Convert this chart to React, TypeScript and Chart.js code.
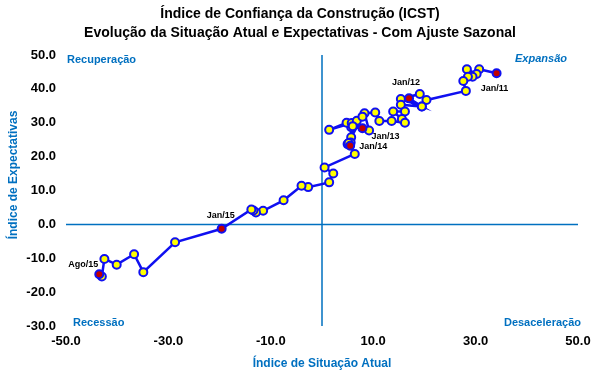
import React, { useEffect, useRef } from "react";
import { Chart, registerables } from "chart.js";

Chart.register(...registerables);

const situacaoAtual: number[] = [
  34.1, 30.7, 30.2, 28.3, 29.4, 28.5, 27.6, 28.1, 20.4, 19.1, 15.4, 19.5,
  17.0, 19.5, 15.4, 16.2, 13.9, 15.6, 16.2, 13.6, 11.2, 10.4, 8.3, 9.2,
  7.9, 5.7, 4.8, 1.4, 5.8, 6.8, 7.9, 5.7, 5.0, 5.6, 6.0, 5.2,
  5.5, 6.4, 0.5, 2.2, 1.4, -2.7, -4.0, -7.5, -11.5, -12.9, -13.4, -13.8,
  -19.6, -28.7, -34.9, -36.7, -40.1, -42.5, -43.0, -43.5,
];
const expectativas: number[] = [
  44.6, 45.8, 44.4, 45.8, 43.6, 43.6, 42.3, 39.4, 36.7, 38.5, 37.0, 34.8,
  37.2, 34.8, 35.3, 33.3, 33.3, 31.1, 30.0, 30.5, 30.5, 33.0, 32.8, 27.7,
  28.4, 28.7, 30.0, 27.9, 29.9, 30.6, 31.8, 25.7, 23.7, 24.2, 29.0, 24.0,
  23.2, 20.8, 16.8, 15.0, 12.4, 11.0, 11.4, 7.1, 4.0, 3.5, 4.1, 4.4,
  -1.3, -5.3, -14.1, -8.8, -11.9, -10.2, -15.4, -14.7,
];
const pointLabels: string[] = [
  "Jan/11", "", "", "", "", "", "", "", "", "", "", "",
  "Jan/12", "", "", "", "", "", "", "", "", "", "", "",
  "Jan/13", "", "", "", "", "", "", "", "", "", "", "",
  "Jan/14", "", "", "", "", "", "", "", "", "", "", "",
  "Jan/15", "", "", "", "", "", "", "Ago/15",
];
const labelOffsets: Record<string, [number, number]> = {
  "Jan/11": [-2, 15],
  "Jan/12": [-3, -16],
  "Jan/13": [23, 8],
  "Jan/14": [23, 1],
  "Jan/15": [-1, -13],
  "Ago/15": [-16, -10],
};
const xTicks = [-50, 50, 20];
const yTicks = [-30, 50, 10];

const BLUE = "#0070C0";
const FONT = "'Liberation Sans', Arial, sans-serif";

export default function App() {
  const ref = useRef<HTMLCanvasElement>(null);
  useEffect(() => {
    if (!ref.current) return;
    const data = situacaoAtual.map((x, i) => ({ x, y: expectativas[i] }));
    const overlay = {
      id: "overlay",
      beforeDatasetsDraw(chart: any) {
        const { ctx, chartArea, scales } = chart;
        const x0 = scales.x.getPixelForValue(0);
        const y0 = scales.y.getPixelForValue(0);
        ctx.save();
        ctx.strokeStyle = BLUE;
        ctx.lineWidth = 1.5;
        ctx.beginPath();
        ctx.moveTo(x0, chartArea.top);
        ctx.lineTo(x0, chartArea.bottom);
        ctx.moveTo(chartArea.left, y0);
        ctx.lineTo(chartArea.right, y0);
        ctx.stroke();
        ctx.restore();
      },
      afterDraw(chart: any) {
        const { ctx, scales } = chart;
        ctx.save();
        ctx.fillStyle = "#000";
        ctx.textAlign = "center";
        ctx.textBaseline = "middle";
        ctx.font = `bold 14px ${FONT}`;
        ctx.fillText("Índice de Confiança da Construção (ICST)", 300, 14);
        ctx.fillText("Evolução da Situação Atual e Expectativas - Com Ajuste Sazonal", 300, 33);
        // quadrant labels
        ctx.fillStyle = BLUE;
        ctx.font = `bold 11px ${FONT}`;
        ctx.textAlign = "left";
        ctx.fillText("Recuperação", 67, 60);
        ctx.fillText("Recessão", 73, 323);
        ctx.textAlign = "right";
        ctx.fillText("Desaceleração", 581, 323);
        ctx.font = `italic bold 11px ${FONT}`;
        ctx.fillText("Expansão", 567, 59);
        // axis titles
        ctx.font = `bold 12px ${FONT}`;
        ctx.textAlign = "center";
        ctx.fillText("Índice de Situação Atual", 322, 364);
        ctx.save();
        ctx.translate(14, 175);
        ctx.rotate(-Math.PI / 2);
        ctx.fillText("Índice de Expectativas", 0, 0);
        ctx.restore();
        // point labels
        ctx.fillStyle = "#000";
        ctx.font = `bold 9px ${FONT}`;
        pointLabels.forEach((lab, i) => {
          if (!lab) return;
          const px = scales.x.getPixelForValue(situacaoAtual[i]);
          const py = scales.y.getPixelForValue(expectativas[i]);
          const off = labelOffsets[lab] || [0, -12];
          ctx.fillText(lab, px + off[0], py + off[1]);
        });
        ctx.restore();
      },
    };
    const chart = new Chart(ref.current, {
      type: "scatter",
      data: {
        datasets: [
          {
            data,
            showLine: true,
            borderColor: "#1010F0",
            borderWidth: 2.5,
            pointRadius: 4,
            pointBorderWidth: 2,
            pointBorderColor: "#1010F0",
            pointBackgroundColor: pointLabels.map((l) => (l ? "#C00000" : "#FFFF00")),
            tension: 0,
          },
        ],
      },
      options: {
        responsive: false,
        animation: false,
        layout: { padding: { top: 55, right: 22, left: 0, bottom: 0 } },
        plugins: { legend: { display: false }, tooltip: { enabled: false } },
        scales: {
          x: {
            type: "linear",
            min: xTicks[0],
            max: xTicks[1],
            border: { display: false },
            grid: { display: false, drawTicks: false },
            ticks: {
              stepSize: xTicks[2],
              padding: 8,
              color: "#000",
              font: { family: FONT, size: 13, weight: "bold" },
              callback: (v: any) => Number(v).toFixed(1),
              maxRotation: 0,
            },
            afterFit: (s: any) => {
              s.height = 49;
            },
          },
          y: {
            type: "linear",
            min: yTicks[0],
            max: yTicks[1],
            border: { display: false },
            grid: { display: false, drawTicks: false },
            ticks: {
              stepSize: yTicks[2],
              padding: 10,
              color: "#000",
              font: { family: FONT, size: 13, weight: "bold" },
              callback: (v: any) => Number(v).toFixed(1),
            },
            afterFit: (s: any) => {
              s.width = 66;
            },
          },
        },
      },
      plugins: [overlay],
    } as any);
    return () => chart.destroy();
  }, []);
  return (
    <div style={{ position: "fixed", left: 0, top: 0, width: 600, height: 375, background: "#fff" }}>
      <canvas ref={ref} width={600} height={375} style={{ width: 600, height: 375 }} />
    </div>
  );
}
